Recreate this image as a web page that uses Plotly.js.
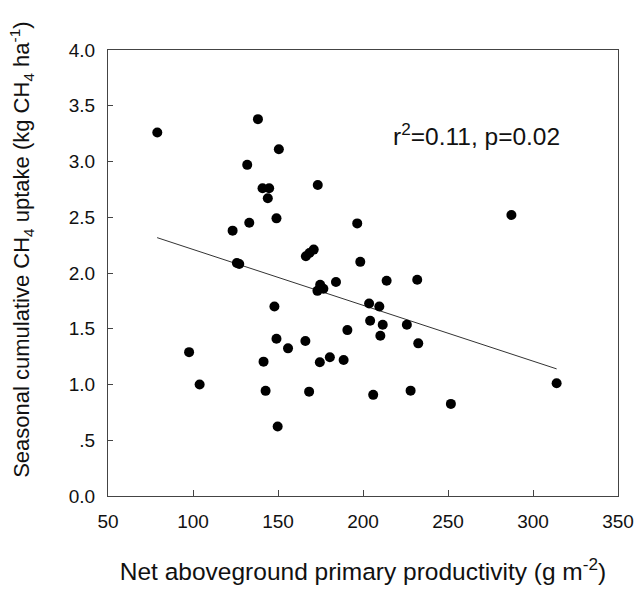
<!DOCTYPE html>
<html>
<head>
<meta charset="utf-8">
<script src="https://cdn.plot.ly/plotly-3.0.1.min.js"></script>
<style>html,body{margin:0;padding:0;background:#fff;}#chart{width:640px;height:589px;}</style>
</head>
<body>
<div id="chart"></div>
<script>
// Net aboveground primary productivity (g m-2)
var nappX = [79, 138.2, 150.5, 131.9, 140.9, 144.8, 144.0, 173.4, 149.1, 133.1,
  123.3, 196.6, 125.8, 127.2, 166.4, 168.5, 171.0, 198.4, 97.7, 103.9,
  141.5, 142.7, 147.9, 149.1, 155.9, 149.8, 166.1, 168.3, 174.6, 180.5,
  188.6, 190.8, 174.8, 176.7, 173.2, 184.1, 287.3, 213.9, 231.9, 203.6,
  209.6, 204.2, 211.6, 225.8, 210.2, 232.5, 206.0, 228.0, 251.7, 313.9];
// Seasonal cumulative CH4 uptake (kg CH4 ha-1)
var ch4Y = [3.26, 3.38, 3.11, 2.97, 2.76, 2.76, 2.67, 2.79, 2.49, 2.45,
  2.38, 2.445, 2.09, 2.08, 2.15, 2.18, 2.21, 2.10, 1.29, 1.00,
  1.205, 0.943, 1.70, 1.41, 1.324, 0.623, 1.39, 0.936, 1.199, 1.245,
  1.22, 1.488, 1.894, 1.858, 1.84, 1.92, 2.52, 1.93, 1.94, 1.727,
  1.70, 1.571, 1.536, 1.536, 1.437, 1.369, 0.907, 0.945, 0.826, 1.011];
// regression line end points
var fitX = [78.9, 313.9];
var fitY = [2.317, 1.14];
// ticks
var xTickVals = [50, 100, 150, 200, 250, 300, 350];
var yTickVals = [0, 0.5, 1, 1.5, 2, 2.5, 3, 3.5, 4];
var yTickText = ['0.0', '.5', '1.0', '1.5', '2.0', '2.5', '3.0', '3.5', '4.0'];
var statText = 'r<sup>2</sup>=0.11, p=0.02';
var xTitle = 'Net aboveground primary productivity (g m<sup>-2</sup>)';
var yTitle = 'Seasonal cumulative CH<sub>4</sub> uptake (kg CH<sub>4</sub> ha<sup>-1</sup>)';

var FONT = 'Liberation Sans, Arial, sans-serif';

var traces = [
  {x: fitX, y: fitY, mode: 'lines', type: 'scatter',
   line: {color: '#333', width: 1}, hoverinfo: 'skip', showlegend: false},
  {x: nappX, y: ch4Y, mode: 'markers', type: 'scatter',
   marker: {color: '#000', size: 10}, showlegend: false}
];

var layout = {
  width: 640, height: 589,
  margin: {l: 108, r: 22, t: 50, b: 93},
  paper_bgcolor: '#fff', plot_bgcolor: '#fff',
  font: {family: FONT, color: '#111', size: 19},
  showlegend: false,
  xaxis: {
    range: [50, 350], tickvals: xTickVals, ticktext: xTickVals.map(String),
    showgrid: false, zeroline: false,
    showline: true, mirror: true, linecolor: '#444', linewidth: 1,
    ticks: 'inside', ticklen: 6, tickcolor: '#444',
    tickfont: {family: FONT, size: 19, color: '#111'},
    ticklabelstandoff: 8,
    title: {text: xTitle,
      font: {family: FONT, size: 24.5, color: '#111'}, standoff: 32}
  },
  yaxis: {
    range: [0, 4], tickvals: yTickVals, ticktext: yTickText,
    showgrid: false, zeroline: false,
    showline: true, mirror: true, linecolor: '#444', linewidth: 1,
    ticks: 'inside', ticklen: 5, tickcolor: '#444',
    tickfont: {family: FONT, size: 19, color: '#111'},
    ticklabelstandoff: 8
  },
  annotations: [{
    x: 0.555, y: 0.81, xref: 'paper', yref: 'paper', xanchor: 'left', yanchor: 'middle',
    text: statText, showarrow: false, font: {family: FONT, size: 24.5, color: '#111'}
  }, {
    x: 0, y: 0.552, xref: 'paper', yref: 'paper', xanchor: 'center', yanchor: 'middle',
    xshift: -86, textangle: -90,
    text: yTitle, showarrow: false, font: {family: FONT, size: 22, color: '#111'}
  }]
};

Plotly.newPlot('chart', traces, layout, {displayModeBar: false, staticPlot: true});
</script>
</body>
</html>
